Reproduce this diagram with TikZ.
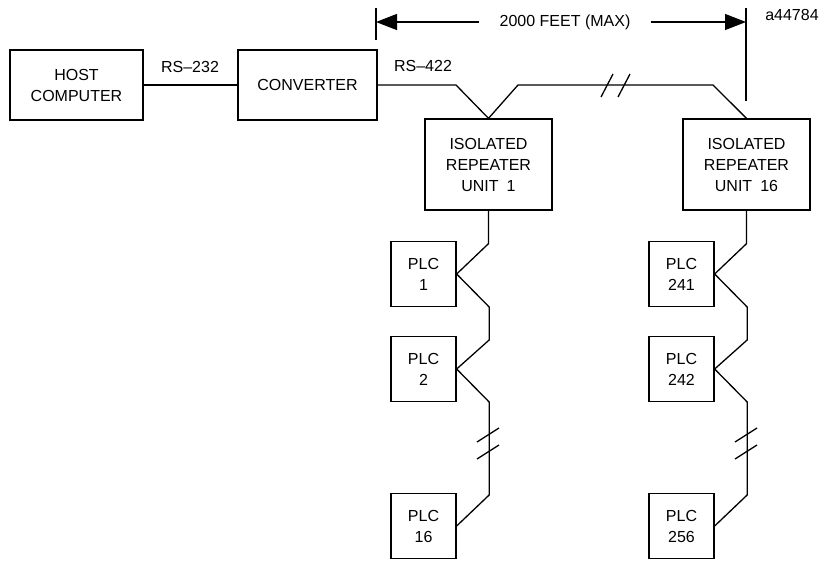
\documentclass[tikz,border=0pt]{standalone}
\usepackage{fontspec}
\setmainfont{Liberation Sans}
\usetikzlibrary{arrows.meta}
\tikzset{
  box/.style={draw, line width=1.3pt, align=center, inner sep=0pt},
  repbox/.style={box, minimum width=127pt, minimum height=91pt},
  plcbox/.style={box, minimum width=65pt, minimum height=65pt},
  wire/.style={line width=1.3pt},
}
\begin{document}
\begin{tikzpicture}[x=1pt,y=-1pt,font=\fontsize{16}{21}\selectfont,
  >={Triangle[length=21pt,width=16pt]}]
\useasboundingbox (0,0) rectangle (828,563);
% head end
\node[box, minimum width=133pt, minimum height=70pt] (host) at (76.5,85) {HOST\\COMPUTER};
\node[box, minimum width=139pt, minimum height=70pt] (conv) at (307.5,85) {CONVERTER};
\node (rs232) at (190,67) {RS–232};
\node (rs422) at (423,66) {RS–422};
\node (fig) at (792,15) {a44784};
% repeaters
\node[repbox] (rep1) at (488.5,164.5) {ISOLATED\\REPEATER\\UNIT\enspace 1};
\node[repbox] (rep16) at (746.5,164.5) {ISOLATED\\REPEATER\\UNIT\enspace 16};
% plcs
\node[plcbox] (plc1) at (423.5,274) {PLC\\1};
\node[plcbox] (plc2) at (423.5,369) {PLC\\2};
\node[plcbox] (plc16) at (423.5,526) {PLC\\16};
\node[plcbox] (plc241) at (681.5,274) {PLC\\241};
\node[plcbox] (plc242) at (681.5,369) {PLC\\242};
\node[plcbox] (plc256) at (681.5,526) {PLC\\256};
% links
\draw[wire] (host) -- (conv);
\draw[wire] (conv.east) -- (456,85) -- (rep1.north) -- (518,85) -- (713,85) -- (rep16.north);
\draw[wire] (601,97) -- (613,74);
\draw[wire] (618,97) -- (630,74);
\draw[wire] (rep1.south) -- ++(0,33) -- (plc1.east) -- ++(32.5,33) -- ++(0,33)
  -- (plc2.east) -- ++(32.5,33) -- ++(0,93) -- (plc16.east);
\draw[wire] (rep16.south) -- ++(0,33) -- (plc241.east) -- ++(32.5,33) -- ++(0,33)
  -- (plc242.east) -- ++(32.5,33) -- ++(0,93) -- (plc256.east);
\draw[wire] (477,442) -- (499,428);
\draw[wire] (477,459) -- (499,445);
\draw[wire] (735,442) -- (757,428);
\draw[wire] (735,459) -- (757,445);
% 2000 feet span
\coordinate (dl) at (376,22);
\coordinate (dr) at (746,22);
\draw[wire] (376,8) -- (376,40);
\draw[wire] (746,8) -- (746,101);
\node[inner xsep=20pt] (span) at (565,22) {2000 FEET (MAX)};
\draw[wire,<-] (dl) -- (span);
\draw[wire,->] (span) -- (dr);
\end{tikzpicture}
\end{document}
